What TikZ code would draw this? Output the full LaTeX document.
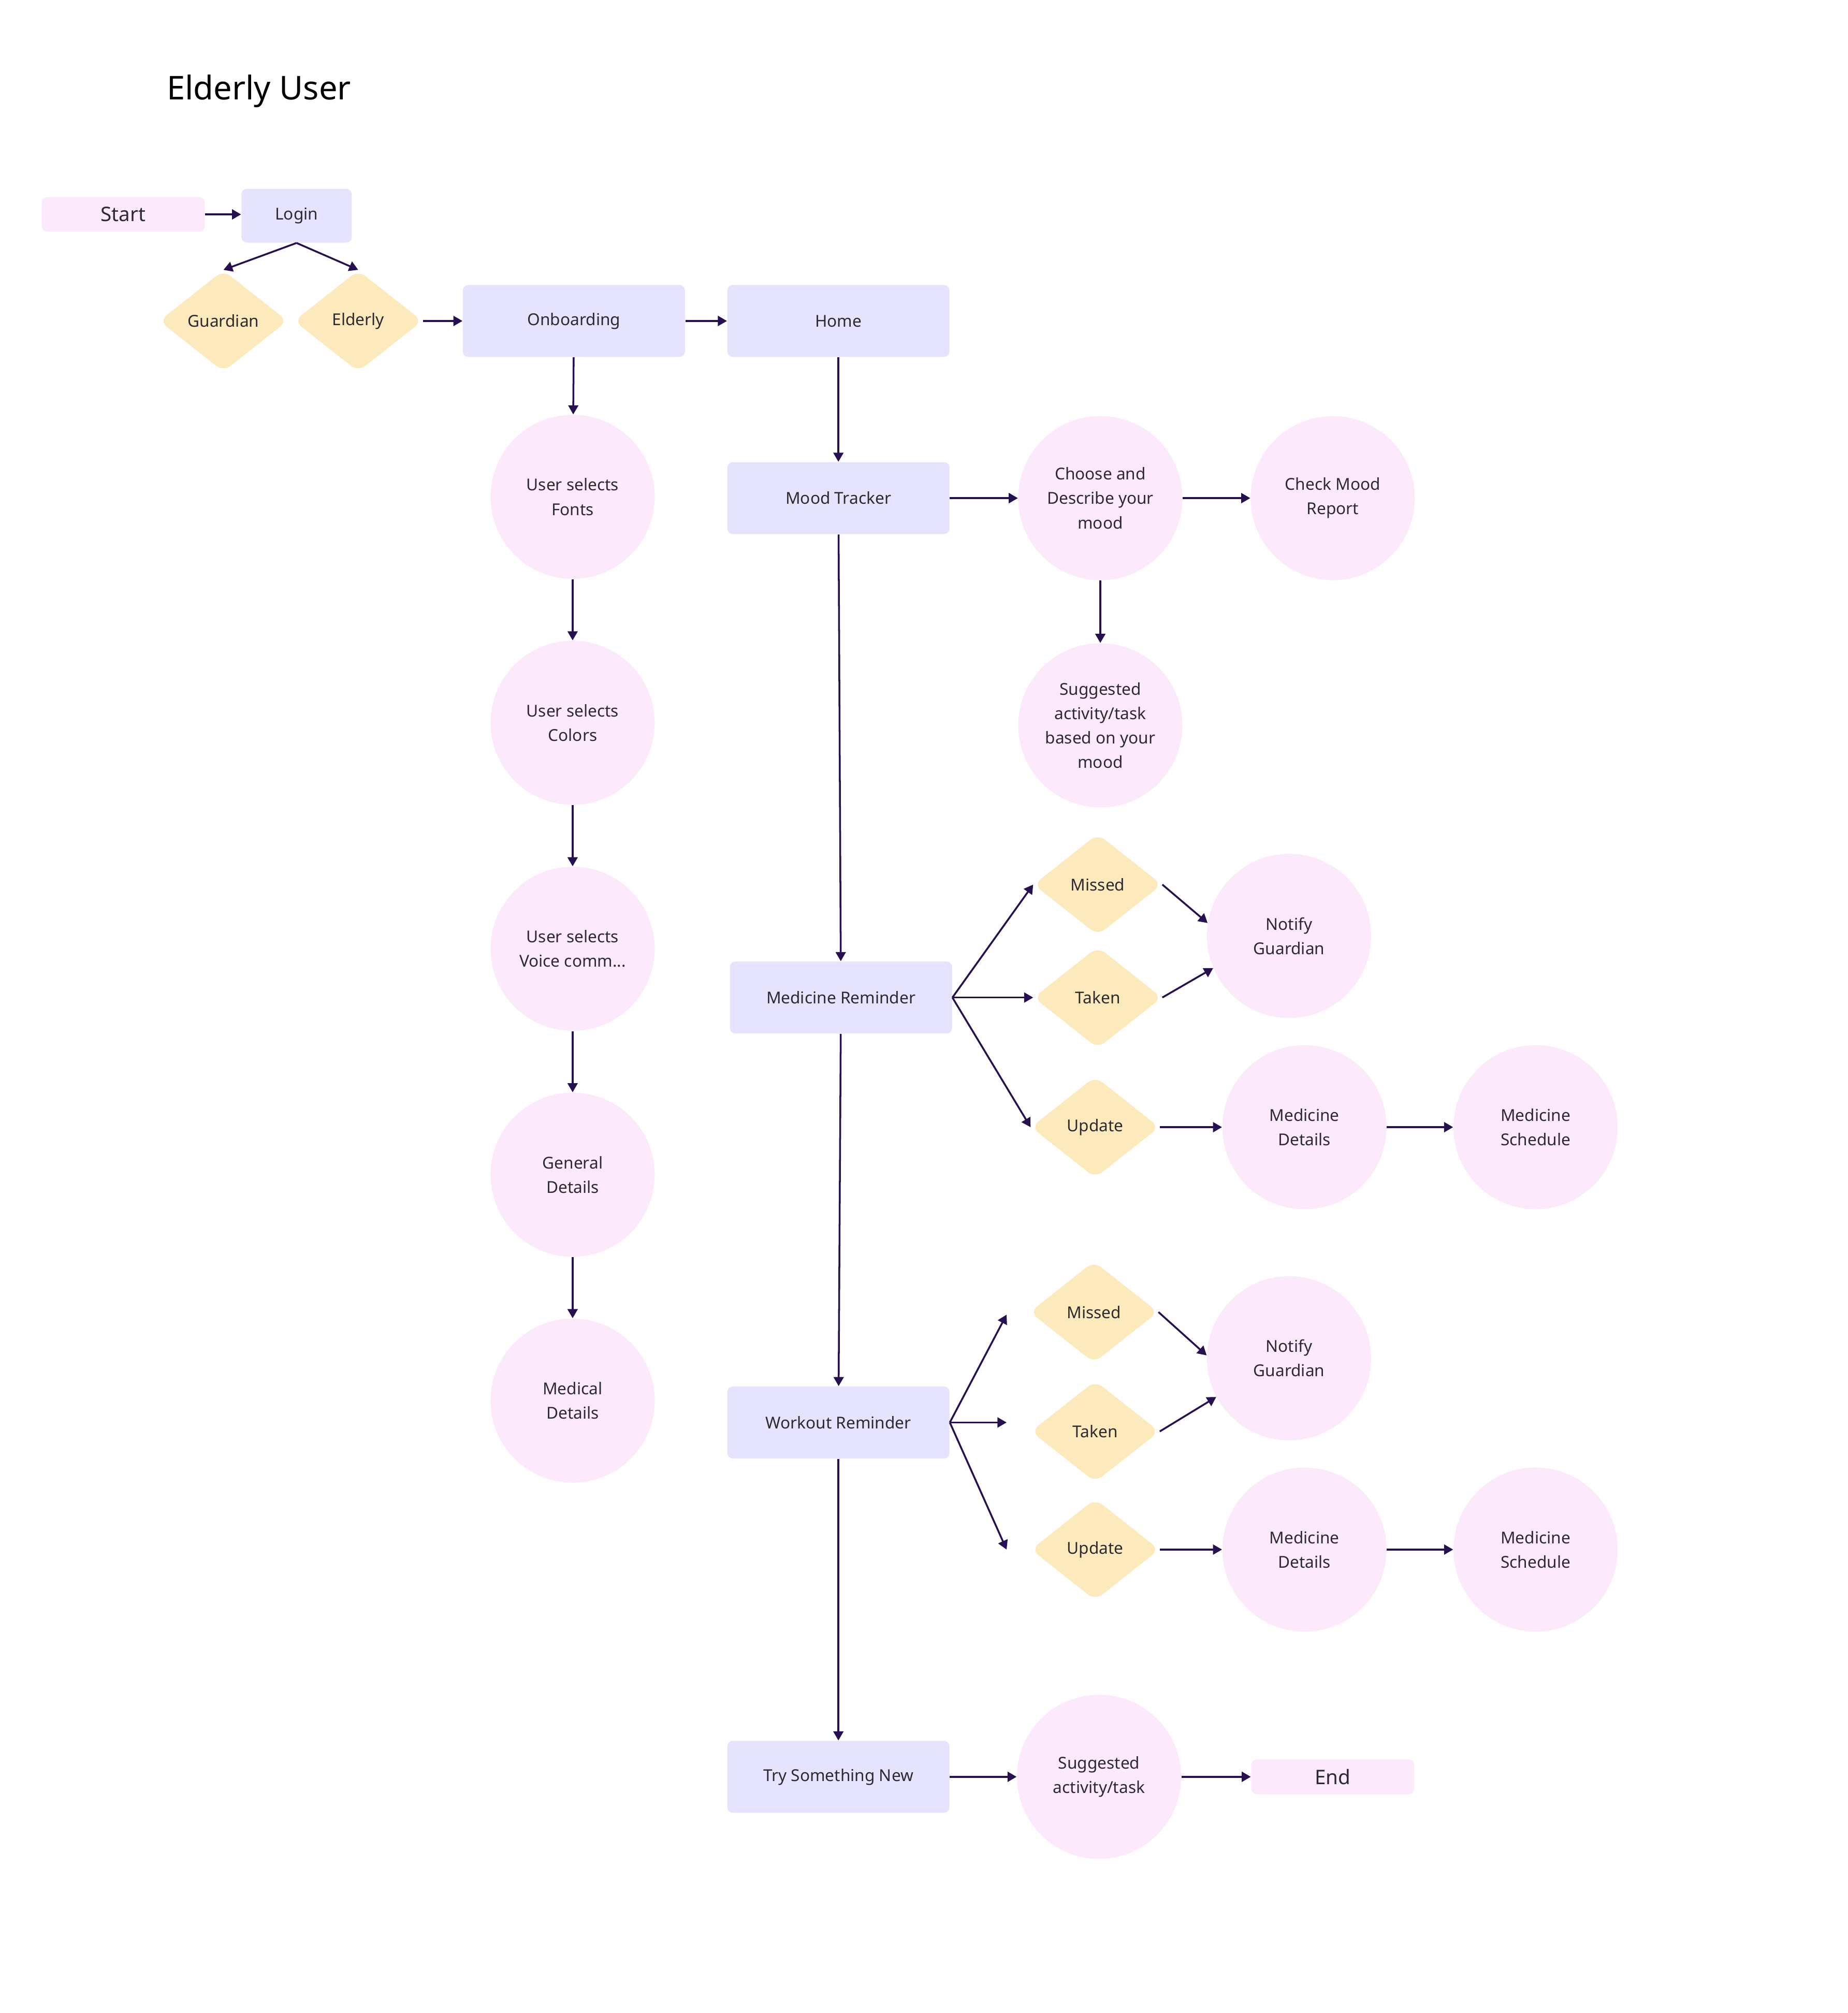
\documentclass[tikz,border=0pt]{standalone}
\usepackage{fontspec}
\setmainfont{Noto Sans}
\usetikzlibrary{arrows.meta,shapes.geometric}
\definecolor{lav}{HTML}{E5E3FD}
\definecolor{pnk}{HTML}{FDE9FC}
\definecolor{ylw}{HTML}{FDEABC}
\definecolor{flow}{HTML}{27104F}
\definecolor{ink}{HTML}{2C2A30}

\begin{document}
\begin{tikzpicture}[x=0.0248cm,y=-0.0248cm,>={Triangle[length=5pt,width=5.5pt]},
  lbl/.style={font=\fontsize{9}{13.4}\selectfont,text=ink,align=center},
  term/.style={lbl,fill=pnk,rounded corners=3pt,minimum width=3.15cm,minimum height=0.67cm,font=\fontsize{11}{13}\selectfont},
  screen/.style={lbl,fill=lav,rounded corners=3pt,minimum width=4.29cm,minimum height=1.39cm},
  bubble/.style={lbl,circle,fill=pnk,minimum size=3.17cm,inner sep=0pt},
  pick/.style={lbl,diamond,fill=ylw,rounded corners=5pt,minimum width=2.48cm,minimum height=1.96cm,inner sep=0pt},
  link/.style={->,flow,line width=1pt}]
\useasboundingbox (0,0) rectangle (1439,1568);
\node[font=\fontsize{18}{21}\selectfont,anchor=west] (title) at (125,71) {Elderly User};

\node[term] (start) at (96,167) {Start};
\node[screen,minimum width=2.13cm,minimum height=1.04cm] (login) at (231,168) {Login};
\node[pick] (guard) at (174,250) {Guardian};
\node[pick] (elder) at (279,250) {Elderly};
\node[screen] (onb) at (447,250) {Onboarding};
\node[screen] (home) at (653,250) {Home};

\node[bubble] (fonts) at (446,387) {User selects\\Fonts};
\node[bubble] (colors) at (446,563) {User selects\\Colors};
\node[bubble] (voice) at (446,739) {User selects\\Voice comm...};
\node[bubble] (general) at (446,915) {General\\Details};
\node[bubble] (medical) at (446,1091) {Medical\\Details};

\node[screen] (mood) at (653,388) {Mood Tracker};
\node[bubble] (choose) at (857,388) {Choose and\\Describe your\\mood};
\node[bubble] (report) at (1038,388) {Check Mood\\Report};
\node[bubble] (suggest) at (857,565) {Suggested\\activity/task\\based on your\\mood};

\node[screen] (medrem) at (655,777) {Medicine Reminder};
\node[pick] (miss1) at (855,689) {Missed};
\node[pick] (taken1) at (855,777) {Taken};
\node[pick] (upd1) at (853,878) {Update};
\node[bubble] (notify1) at (1004,729) {Notify\\Guardian};
\node[bubble] (mdet1) at (1016,878) {Medicine\\Details};
\node[bubble] (msch1) at (1196,878) {Medicine\\Schedule};

\node[screen] (workout) at (653,1108) {Workout Reminder};
\node[pick] (miss2) at (852,1022) {Missed};
\node[pick] (taken2) at (853,1115) {Taken};
\node[pick] (upd2) at (853,1207) {Update};
\node[bubble] (notify2) at (1004,1058) {Notify\\Guardian};
\node[bubble] (mdet2) at (1016,1207) {Medicine\\Details};
\node[bubble] (msch2) at (1196,1207) {Medicine\\Schedule};
\coordinate (w1) at (784,1024);
\coordinate (w2) at (784,1108);
\coordinate (w3) at (784,1207);

\node[screen] (trynew) at (653,1384) {Try Something New};
\node[bubble] (sugtask) at (856,1384) {Suggested\\activity/task};
\node[term] (finish) at (1038,1384) {End};

\draw[link] (start) -- (login.west |- start);
\draw[link] (login.south) -- (guard.north);
\draw[link] (login.south) -- (elder.north);
\draw[link] (elder) -- (onb);
\draw[link] (onb) -- (home);
\draw[link] (onb) -- (fonts);
\draw[link] (fonts) -- (colors);
\draw[link] (colors) -- (voice);
\draw[link] (voice) -- (general);
\draw[link] (general) -- (medical);

\draw[link] (home) -- (mood);
\draw[link] (mood) -- (choose);
\draw[link] (choose) -- (report);
\draw[link] (choose) -- (suggest);
\draw[link] (mood) -- (medrem);

\draw[link] (medrem.east) -- (miss1.west);
\draw[link] (medrem.east) -- (taken1.west);
\draw[link] (medrem.east) -- (upd1.west);
\draw[link] (miss1.east) -- (notify1.171);
\draw[link] (taken1.east) -- (notify1.203);
\draw[link] (upd1) -- (mdet1);
\draw[link] (mdet1) -- (msch1);
\draw[link] (medrem) -- (workout);

\draw[link] (workout.east) -- (w1);
\draw[link] (workout.east) -- (w2);
\draw[link] (workout.east) -- (w3);
\draw[link] (miss2.east) -- (notify2.178);
\draw[link] (taken2.east) -- (notify2.208);
\draw[link] (upd2) -- (mdet2);
\draw[link] (mdet2) -- (msch2);
\draw[link] (workout) -- (trynew);

\draw[link] (trynew) -- (sugtask);
\draw[link] (sugtask) -- (finish);
\end{tikzpicture}
\end{document}
